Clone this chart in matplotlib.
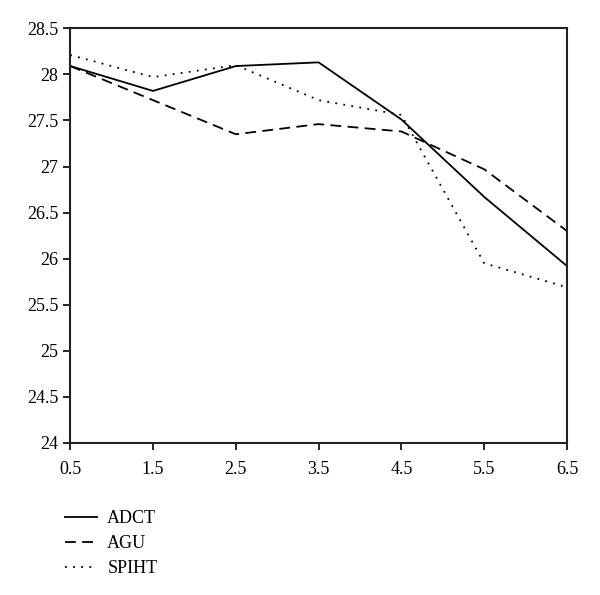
import matplotlib
matplotlib.use("Agg")
import matplotlib.pyplot as plt

plt.rcParams["font.family"] = ["Liberation Serif", "DejaVu Serif"]

x = [0.5, 1.5, 2.5, 3.5, 4.5, 5.5, 6.5]
adct = [28.09, 27.82, 28.09, 28.13, 27.51, 26.67, 25.92]
agu = [28.09, 27.72, 27.35, 27.46, 27.38, 26.97, 26.30]
spiht = [28.21, 27.97, 28.10, 27.72, 27.56, 25.95, 25.69]
yticks = [24, 24.5, 25, 25.5, 26, 26.5, 27, 27.5, 28, 28.5]
ytick_labels = ["24", "24.5", "25", "25.5", "26", "26.5", "27", "27.5", "28", "28.5"]

fig = plt.figure(figsize=(6, 5.95), dpi=100)
ax = fig.add_axes([0.117, 0.2555, 0.828, 0.697])

ax.plot(x, adct, color="black", linewidth=1.3, linestyle="-", label="ADCT")
ax.plot(x, agu, color="black", linewidth=1.3, linestyle=(0, (6, 3.5)), label="AGU")
ax.plot(x, spiht, color="black", linewidth=1.3, linestyle=(0, (1, 3.5)), label="SPIHT")

ax.set_xlim(0.5, 6.5)
ax.set_ylim(24, 28.5)
ax.set_xticks(x)
ax.set_xticklabels([f"{v}" for v in x])
ax.set_yticks(yticks)
ax.set_yticklabels(ytick_labels)
ax.tick_params(direction="out", length=5, width=1.2, labelsize=13, top=False, right=False)
ax.tick_params(axis="x", pad=8)
for s in ax.spines.values():
    s.set_linewidth(1.5)
    s.set_color("#222222")

fig.legend(loc="upper left", bbox_to_anchor=(0.093, 0.158), frameon=False,
           fontsize=13, handlelength=1.8, handletextpad=0.55, labelspacing=0.45,
           borderpad=0)

fig.savefig("out.png", dpi=100)
